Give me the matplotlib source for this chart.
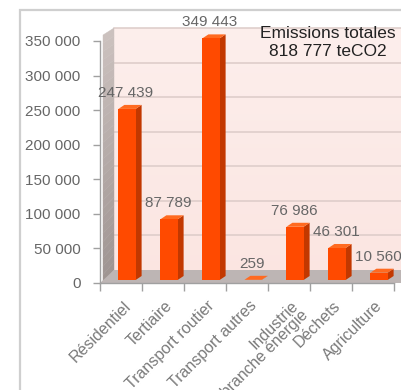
import matplotlib
matplotlib.use('Agg')
import matplotlib.pyplot as plt
from matplotlib.patches import Polygon, Rectangle
from matplotlib.transforms import ScaledTranslation
import numpy as np

categories = ['Résidentiel', 'Tertiaire', 'Transport routier', 'Transport autres',
              'Industrie\nhors branche énergie', 'Déchets', 'Agriculture']
values = [247439, 87789, 349443, 259, 76986, 46301, 10560]
value_labels = ['247 439', '87 789', '349 443', '259', '76 986', '46 301', '10 560']
y_ticks = [0, 50000, 100000, 150000, 200000, 250000, 300000, 350000]
y_tick_labels = ['0', '50 000', '100 000', '150 000', '200 000', '250 000', '300 000', '350 000']
total_label = 'Emissions totales\n818 777 teCO2'

plt.rcParams['font.family'] = ['Liberation Sans', 'DejaVu Sans']

W, H = 401, 390
fig = plt.figure(figsize=(W / 100, H / 100), dpi=100)
fig.patch.set_facecolor('white')

# outer chart frame
fig.patches.append(Rectangle((20 / W, -0.05), 1.2, 1 - 10 / H + 0.05, transform=fig.transFigure,
                             fill=False, edgecolor='#cfcfcf', lw=1.6))

ax_l, ax_r, ax_t, ax_b = 100, 394, 41, 283
ax = fig.add_axes([ax_l / W, 1 - ax_b / H, (ax_r - ax_l) / W, (ax_b - ax_t) / H])
n = len(categories)
ymax = y_ticks[-1]
ax.set_xlim(0, n)
ax.set_ylim(0, ymax)
ax.set_autoscale_on(False)
ax.patch.set_visible(False)
for s in ax.spines.values():
    s.set_visible(False)

px = n / (ax_r - ax_l)          # data units per pixel (x)
py = ymax / (ax_b - ax_t)       # data units per pixel (y)

# 3D walls
wdx, wdy = 14 * px, 13 * py
front_top = ymax + 6 * py
back_top = ymax + 13 * py
lx = 3 * px
grad = np.linspace(0, 1, 100).reshape(-1, 1)
c_bot = np.array([0.985, 0.90, 0.885])
c_top = np.array([0.99, 0.935, 0.925])
img = c_bot + (c_top - c_bot) * grad[..., None]
img = np.repeat(img, 2, axis=1)
ax.imshow(img, origin='lower', extent=(wdx, n + wdx + 1, wdy, back_top),
          aspect='auto', clip_on=False, zorder=0)
for t in y_ticks[1:]:
    ax.plot([wdx, n + wdx + 1], [t + wdy, t + wdy], color='#dccbc8', lw=1.1,
            clip_on=False, zorder=1)

# left wall, shaded in bands from bottom (darker) to top (lighter)
nb = 30
cb = np.array([0.62, 0.58, 0.57])
ct = np.array([0.80, 0.76, 0.75])
for k in range(nb):
    f0, f1 = k / nb, (k + 1) / nb
    yf0, yf1 = front_top * f0, front_top * f1
    yb0, yb1 = wdy + (back_top - wdy) * f0, wdy + (back_top - wdy) * f1
    col = cb + (ct - cb) * (f0 + f1) / 2
    ax.add_patch(Polygon([(lx, yf0), (wdx, yb0), (wdx, yb1), (lx, yf1)], closed=True,
                         facecolor=col, edgecolor=col, lw=0.3, clip_on=False, zorder=1.5))

ax.add_patch(Polygon([(0, 0), (n + 1, 0), (n + 1 + wdx, wdy), (wdx, wdy)], closed=True,
                     facecolor='#bdb5b4', edgecolor='none', clip_on=False, zorder=1.5))

# bars
bw = 0.41
bdx, bdy = 6 * px, 3 * py
sdx, sdy = 6 * px, 4 * py
for i, v in enumerate(values):
    xl = i + 0.5 - bw / 2 + bdx
    xr = xl + bw
    ax.add_patch(Polygon([(xr, bdy), (xr + sdx, bdy + sdy), (xr + sdx, v + bdy + sdy), (xr, v + bdy)],
                         closed=True, facecolor='#c23800', edgecolor='none', clip_on=False, zorder=3))
    ax.add_patch(Polygon([(xl, v + bdy), (xr, v + bdy), (xr + sdx, v + bdy + sdy), (xl + sdx, v + bdy + sdy)],
                         closed=True, facecolor='#ff6a20', edgecolor='none', clip_on=False, zorder=3))
ax.bar([i + 0.5 + bdx for i in range(n)], values, width=bw, bottom=bdy, color='#ff4a00',
       edgecolor='none', zorder=4, clip_on=False)

# data labels
for i, (v, lab) in enumerate(zip(values, value_labels)):
    ax.annotate(lab, (i + 0.5, v), xytext=(5 * 0.72, 19 * 0.72), textcoords='offset points',
                ha='center', va='center', fontsize=11, color='#666666', zorder=6,
                annotation_clip=False)

# axes lines and ticks
ax.plot([0, 0], [0, ymax], color='#a0a0a0', lw=1, clip_on=False, zorder=5)
ax.plot([0, n], [0, 0], color='#a0a0a0', lw=1, clip_on=False, zorder=5)
ax.set_yticks(y_ticks)
ax.set_yticklabels(y_tick_labels)
ax.tick_params(axis='y', length=5, width=1, color='#a0a0a0', labelsize=11,
               labelcolor='#666666', pad=9)
ax.set_xticks(range(n + 1))
ax.set_xticklabels([])
ax.tick_params(axis='x', length=6, width=1, color='#a0a0a0', direction='out')

# category labels
off = ScaledTranslation(2 / 100, -15 / 100, fig.dpi_scale_trans)
for i, c in enumerate(categories):
    ax.text(i + 0.5, 0, c, transform=ax.get_xaxis_transform() + off, rotation=45,
            rotation_mode='anchor', ha='right', va='top', multialignment='right',
            fontsize=11.5, color='#7a7a7a', linespacing=0.9)

fig.text(328 / W, 1 - 43 / H, total_label, ha='center', va='center', fontsize=12.5,
         color='#222222', linespacing=1.25)

fig.savefig('out.png', dpi=100)
